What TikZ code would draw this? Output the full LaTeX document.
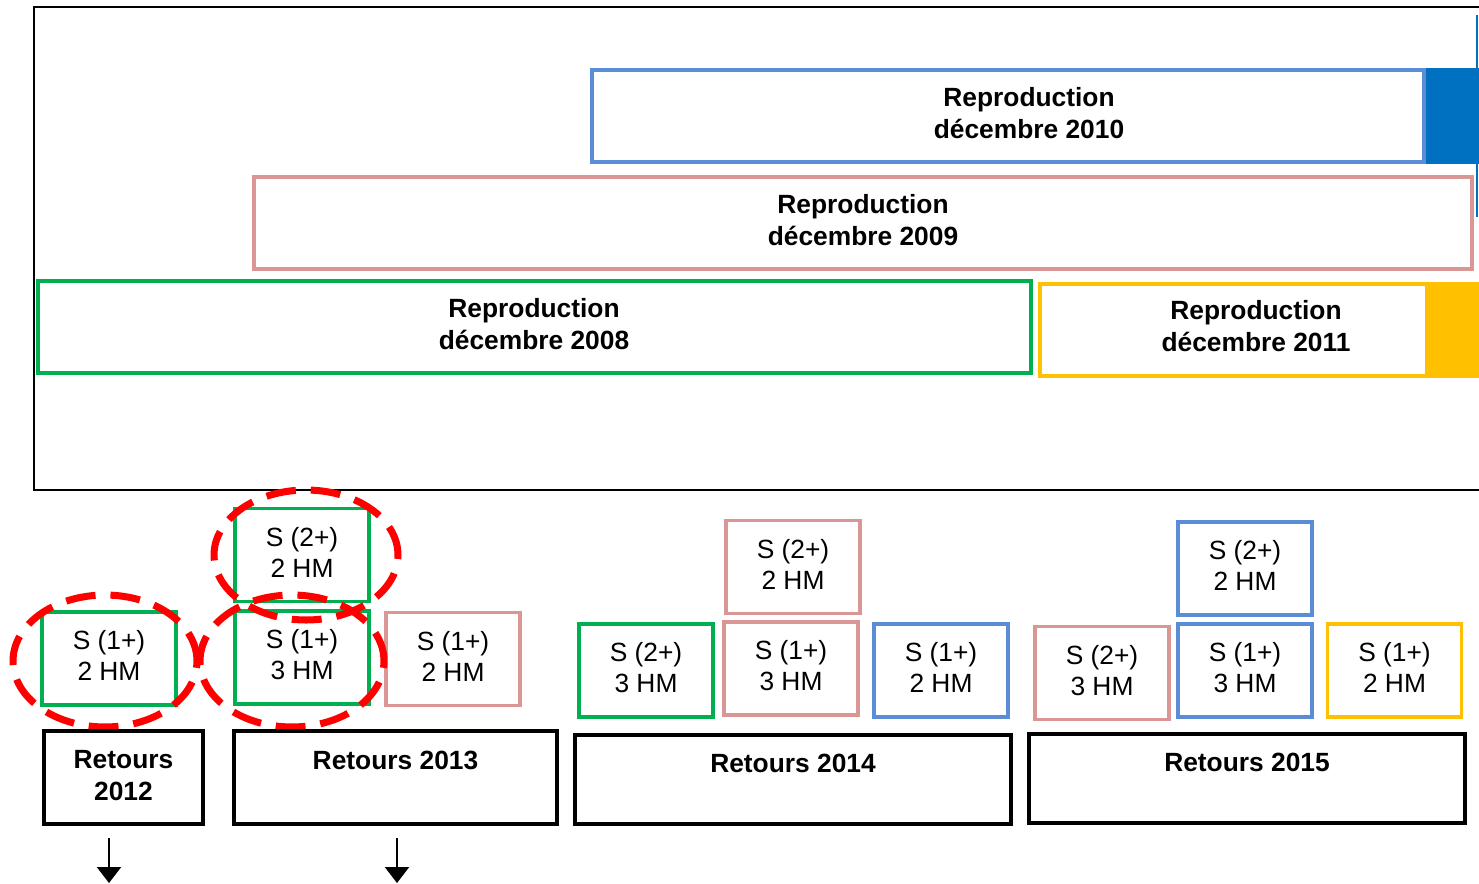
\documentclass[tikz,border=0pt]{standalone}
\usepackage{fontspec}
\setmainfont{Liberation Sans}
\definecolor{repblue}{RGB}{91, 141, 215}
\definecolor{deepblue}{RGB}{0, 112, 192}
\definecolor{reppink}{RGB}{217, 150, 148}
\definecolor{repgreen}{RGB}{0, 176, 80}
\definecolor{repyellow}{RGB}{255, 192, 0}
\definecolor{ringred}{RGB}{255, 0, 0}
\usetikzlibrary{positioning,arrows.meta}
\newcommand{\hm}[2]{S (#1)\\#2 HM}

\begin{document}
\begin{tikzpicture}[x=0.02cm, y=-0.02cm,
    repbox/.style={draw, line width=2pt, minimum height=1.84cm, inner sep=0pt},
    reptext/.style={align=center, font=\fontsize{15}{18.2}\selectfont\bfseries},
    hmbox/.style={draw, line width=2pt, minimum width=2.68cm, minimum height=1.86cm,
        inner sep=0pt, align=center, text depth=3.4pt, font=\fontsize{15}{17.6}\selectfont},
    retbox/.style={draw=black, line width=2.3pt, minimum height=1.86cm, inner sep=0pt},
    rettext/.style={align=center, font=\fontsize{15}{18.2}\selectfont\bfseries},
    ring/.style={draw=ringred, line width=4pt, dash pattern=on 17pt off 8.5pt}]
    \useasboundingbox (0,0) rectangle (1479,883);
    % frame
    \draw[line width=1.1pt] (1479,7) -- (34,7) -- (34,490) -- (1479,490);
    \draw[deepblue, line width=1pt] (1477,15) -- (1477,217);
    % reproductions
    \fill[deepblue] (1424,68) rectangle (1479,164);
    \fill[repyellow] (1427,282) rectangle (1479,378);
    \node[repbox, draw=repblue, minimum width=16.64cm] (rep10) at (1008,116) {};
    \node[reptext] (rep10txt) at (1029,113) {Reproduction\\décembre 2010};
    \node[repbox, draw=reppink, minimum width=24.36cm] (rep09) at (863,223) {};
    \node[reptext] (rep09txt) at (863,220) {Reproduction\\décembre 2009};
    \node[repbox, draw=repgreen, minimum width=19.86cm] (rep08) at (534.5,327) {};
    \node[reptext] (rep08txt) at (534,324) {Reproduction\\décembre 2008};
    \node[repbox, draw=repyellow, minimum width=7.74cm] (rep11) at (1233.5,330) {};
    \node[reptext] (rep11txt) at (1256,326) {Reproduction\\décembre 2011};
    % 2012
    \node[hmbox, draw=repgreen] (g12) at (109,658.5) {\hm{1+}{2}};
    % 2013
    \node[hmbox, draw=repgreen] (g13a) at (302,555) {\hm{2+}{2}};
    \node[hmbox, draw=repgreen] (g13b) at (302,657.5) {\hm{1+}{3}};
    \node[hmbox, draw=reppink] (p13) at (453,659) {\hm{1+}{2}};
    % 2014
    \node[hmbox, draw=reppink] (p14a) at (793,567) {\hm{2+}{2}};
    \node[hmbox, draw=repgreen] (g14) at (646,670.5) {\hm{2+}{3}};
    \node[hmbox, draw=reppink] (p14b) at (791,668.5) {\hm{1+}{3}};
    \node[hmbox, draw=repblue] (b14) at (941,670.5) {\hm{1+}{2}};
    % 2015
    \node[hmbox, draw=repblue] (b15a) at (1245,568.5) {\hm{2+}{2}};
    \node[hmbox, draw=reppink] (p15) at (1102,673) {\hm{2+}{3}};
    \node[hmbox, draw=repblue] (b15b) at (1245,670.5) {\hm{1+}{3}};
    \node[hmbox, draw=repyellow] (y15) at (1394.5,670.5) {\hm{1+}{2}};
    % rings
    \draw[ring] (105,661) ellipse [x radius=1.84cm, y radius=1.32cm];
    \draw[ring] (306,555) ellipse [x radius=1.84cm, y radius=1.3cm];
    \draw[ring] (292,661) ellipse [x radius=1.84cm, y radius=1.32cm];
    % retours
    \node[retbox, minimum width=3.18cm, rettext, text depth=2.3pt] (r12) at (123.5,777.5) {Retours\\2012};
    \node[retbox, minimum width=6.46cm] (r13) at (395.5,777.5) {};
    \node[rettext, below=9pt of r13.north] (r13txt) {Retours 2013};
    \node[retbox, minimum width=8.72cm, minimum height=1.78cm] (r14) at (793,779.5) {};
    \node[rettext, below=8.5pt of r14.north] (r14txt) {Retours 2014};
    \node[retbox, minimum width=8.72cm, minimum height=1.78cm] (r15) at (1247,778.5) {};
    \node[rettext, below=8.5pt of r15.north] (r15txt) {Retours 2015};
    % arrows
    \coordinate (a12s) at (109,838);
    \coordinate (a12e) at (109,883);
    \coordinate (a13s) at (397,838);
    \coordinate (a13e) at (397,883);
    \draw[line width=0.8pt, -{Triangle[width=13.6pt, length=9pt]}] (a12s) -- (a12e);
    \draw[line width=0.8pt, -{Triangle[width=13.6pt, length=9pt]}] (a13s) -- (a13e);
\end{tikzpicture}
\end{document}
